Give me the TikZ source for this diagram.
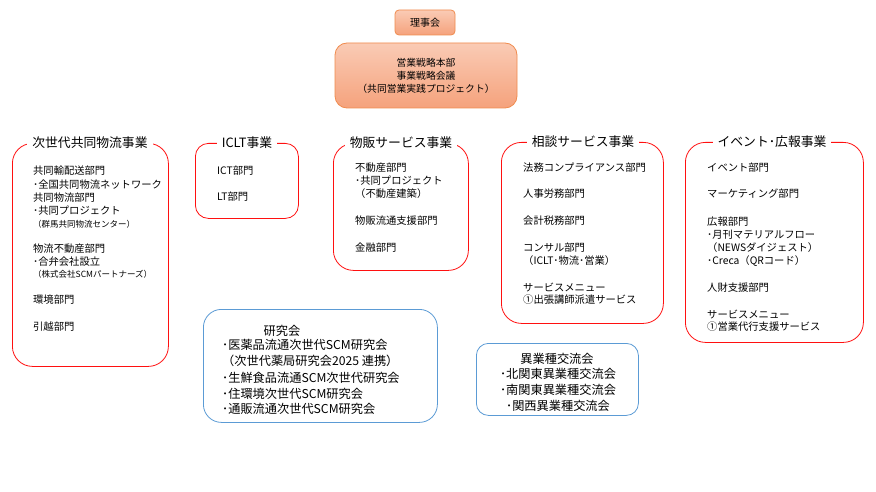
\documentclass[tikz,border=0pt]{standalone}
\usepackage{fontspec}
\setmainfont{Noto Sans CJK JP}
\definecolor{divred}{HTML}{FF1010}
\definecolor{grpblue}{HTML}{5B9BD5}
\definecolor{toporange}{HTML}{F08B4E}
\definecolor{topA}{HTML}{FACBB5}
\definecolor{topB}{HTML}{F5A27C}
\begin{document}
\begin{tikzpicture}[x=1pt,y=-1pt,
  it/.style={anchor=west,inner sep=0pt,font=\fontsize{10.3}{12}\selectfont},
  sm/.style={anchor=west,inner sep=0pt,font=\fontsize{8.5}{10}\selectfont},
  ttl/.style={fill=white,inner xsep=5pt,inner ysep=2pt,font=\fontsize{12.8}{15}\selectfont},
  div/.style={draw=divred,line width=0.8pt,rounded corners=20pt,anchor=north west,inner sep=0pt},
  grp/.style={draw=grpblue,line width=0.8pt,anchor=north west,inner sep=0pt},
  grpline/.style={inner sep=0pt,font=\fontsize{12.2}{14}\selectfont},
  topbox/.style={draw=toporange,line width=0.8pt,top color=topA,bottom color=topB,inner sep=0pt}
]
\useasboundingbox (0,0) rectangle (876,492);
\fill[white] (0,0) rectangle (876,492);

% top
\node[topbox, minimum width=60pt, minimum height=25pt, rounded corners=4pt, font=\fontsize{10}{12}\selectfont] (riji) at (425,22.5) {理事会};
\node[topbox, minimum width=182pt, minimum height=65pt, rounded corners=12pt, align=center, font=\fontsize{9.8}{13}\selectfont] (honbu) at (426,75.5) {営業戦略本部\\事業戦略会議\\（共同営業実践プロジェクト）};

% box 1
\node[div, minimum width=156pt, minimum height=223pt] (d1) at (12,143) {};
\node[ttl] (t1) at (90,143) {次世代共同物流事業};
\node[it] (a1) at (33,171) {共同輸配送部門};
\node[it] (a2) at (33,185) {･全国共同物流ネットワーク};
\node[it] (a3) at (33,198) {共同物流部門};
\node[it] (a4) at (33,211) {･共同プロジェクト};
\node[sm] (a5) at (33,224) {（群馬共同物流センター）};
\node[it] (a6) at (33,249) {物流不動産部門};
\node[it] (a7) at (33,262) {･合弁会社設立};
\node[sm] (a8) at (33,274) {（株式会社SCMパートナーズ）};
\node[it] (a9) at (33,300) {環境部門};
\node[it] (a10) at (33,327) {引越部門};

% box 2
\node[div, rounded corners=13pt, minimum width=103pt, minimum height=75pt] (d2) at (195,143) {};
\node[ttl] (t2) at (247,143) {ICLT事業};
\node[it] (b1) at (217,171) {ICT部門};
\node[it] (b2) at (217,197) {LT部門};

% box 3
\node[div, minimum width=135pt, minimum height=127pt] (d3) at (333,143) {};
\node[ttl] (t3) at (401,143) {物販サービス事業};
\node[it] (c1) at (355,168) {不動産部門};
\node[it] (c2) at (355,181) {･共同プロジェクト};
\node[it] (c3) at (355,194) {（不動産建築）};
\node[it] (c4) at (355,221) {物販流通支援部門};
\node[it] (c5) at (355,248) {金融部門};

% box 4
\node[div, minimum width=162pt, minimum height=181pt] (d4) at (501,142) {};
\node[ttl] (t4) at (583,142) {相談サービス事業};
\node[it] (e1) at (523,168) {法務コンプライアンス部門};
\node[it] (e2) at (523,194) {人事労務部門};
\node[it] (e3) at (523,221) {会計税務部門};
\node[it] (e4) at (523,248) {コンサル部門};
\node[it] (e5) at (523,261) {（ICLT･物流･営業）};
\node[it] (e6) at (523,287) {サービスメニュー};
\node[it] (e7) at (523,300) {①出張講師派遣サービス};

% box 5
\node[div, minimum width=178pt, minimum height=200pt] (d5) at (685,142) {};
\node[ttl] (t5) at (772,142) {イベント･広報事業};
\node[it] (f1) at (707,168) {イベント部門};
\node[it] (f2) at (707,194) {マーケティング部門};
\node[it] (f3) at (707,222) {広報部門};
\node[it] (f4) at (707,235) {･月刊マテリアルフロー};
\node[it] (f5) at (707,248) {（NEWSダイジェスト）};
\node[it] (f6) at (707,261) {･Creca（QRコード）};
\node[it] (f7) at (707,288) {人財支援部門};
\node[it] (f8) at (707,314) {サービスメニュー};
\node[it] (f9) at (707,327) {①営業代行支援サービス};

% research
\node[grp, rounded corners=18pt, minimum width=234pt, minimum height=113pt] (r) at (203,309) {};
\node[grpline] (r0) at (282,331) {研究会};
\node[grpline, anchor=west] (r1) at (222,345) {･医薬品流通次世代SCM研究会};
\node[grpline, anchor=west] (r2) at (222,361) {（次世代薬局研究会2025 連携）};
\node[grpline, anchor=west] (r3) at (222,378) {･生鮮食品流通SCM次世代研究会};
\node[grpline, anchor=west] (r4) at (222,394) {･住環境次世代SCM研究会};
\node[grpline, anchor=west] (r5) at (222,409) {･通販流通次世代SCM研究会};

% exchange
\node[grp, rounded corners=12pt, minimum width=162pt, minimum height=72pt] (x) at (476,343) {};
\node[grpline] (x0) at (557,359) {異業種交流会};
\node[grpline] (x1) at (558,374) {･北関東異業種交流会};
\node[grpline] (x2) at (558,390) {･南関東異業種交流会};
\node[grpline] (x3) at (558,406) {･関西異業種交流会};
\end{tikzpicture}
\end{document}
